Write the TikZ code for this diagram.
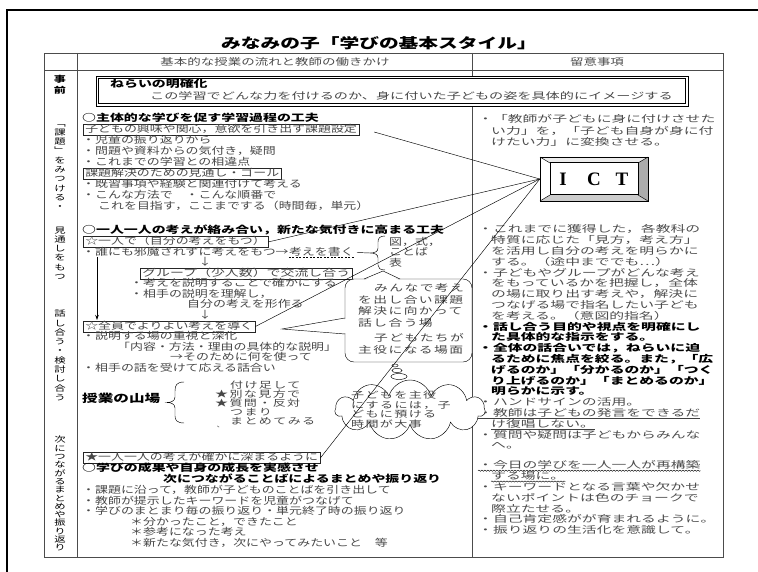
\documentclass[tikz,border=0pt]{standalone}
\usepackage{fontspec}
\usetikzlibrary{shapes.symbols,arrows.meta,decorations.pathmorphing}
\newfontfamily\jp{Noto Sans CJK JP}[FakeStretch=1.42]
\newfontfamily\jpr{Noto Sans CJK JP}[FakeStretch=1.32]
\newfontfamily\jprw{Noto Sans CJK JP}[FakeStretch=1.56]
\newfontfamily\jpa{Noto Sans CJK JP}[FakeStretch=1.52]
\newfontfamily\jpw{Noto Sans CJK JP}[FakeStretch=1.45,LetterSpace=15]
\newfontfamily\ictfont{Liberation Serif}
\begin{document}
\begin{tikzpicture}[x=1pt,y=-1pt]
\tikzset{
 base/.style={inner sep=0pt, text height=7.4pt, text depth=1.6pt},
 tx/.style={base, anchor=west, font=\jpr\fontsize{9.8}{10}\selectfont, text=black!72},
 txw/.style={base, anchor=west, font=\jp\fontsize{9.8}{10}\selectfont, text=black!72},
 bd/.style={base, anchor=west, font=\jp\bfseries\fontsize{9.8}{10}\selectfont},
 bx/.style={tx, draw=black!85, line width=0.5pt, inner xsep=2pt, inner ysep=1.2pt},
 bxw/.style={txw, draw=black!85, line width=0.5pt, inner xsep=2pt, inner ysep=1.2pt},
 rt/.style={base, anchor=west, font=\jprw\fontsize{9.5}{10}\selectfont, text=black!70},
 rb/.style={base, anchor=west, font=\jprw\bfseries\fontsize{9.5}{10}\selectfont},
 tw/.style={base, anchor=west, font=\jpw\fontsize{9}{10}\selectfont, text=black!72},
 cw/.style={base, anchor=west, font=\jpw\fontsize{9.5}{10}\selectfont, text=black!72},
 vt/.style={inner sep=0pt, align=center, font=\jp\fontsize{8}{9.3}\selectfont},
 hd/.style={inner sep=0pt, font=\jp\fontsize{9.5}{10}\selectfont, text=black!70},
 tbl/.style={line width=0.6pt, black!70},
 thinl/.style={line width=0.45pt},
 wavy/.style={decorate, decoration={snake, amplitude=0.6pt, segment length=3pt}, line width=0.4pt},
}
\useasboundingbox (0,0) rectangle (758,572);
% page frame
\draw[line width=2.2pt] (7,572) -- (7,10) -- (758,10);
% title
\node[inner sep=0pt, font=\jp\bfseries\fontsize{13.9}{14}\selectfont] (title) at (379,43) {みなみの子「学びの基本スタイル」};
% table
\draw[tbl] (44,53) rectangle (723,557);
\draw[tbl] (44,70) -- (723,70);
\draw[tbl] (77,53) -- (77,557);
\draw[tbl] (472,53) -- (472,557);
\node[hd] (h2) at (275,62) {基本的な授業の流れと教師の働きかけ};
\node[hd] (h3) at (597,62) {留意事項};
% column 1
\node[vt, font=\jp\bfseries\fontsize{8.5}{11}\selectfont] (v1) at (60,85) {事\\前};
\node[vt, anchor=north] (v2) at (60,124) {﹁\\課\\題\\﹂\\を\\み\\つ\\け\\る\\・\\[14pt]見\\通\\し\\を\\も\\つ};
\node[vt, anchor=north] (v3) at (60,310) {話\\し\\合\\う\\・\\検\\討\\し\\合\\う};
\node[vt, anchor=north, font=\jp\fontsize{8}{8.3}\selectfont] (v4) at (60,436) {次\\に\\つ\\な\\が\\る\\ま\\と\\め\\や\\振\\り\\返\\り};
% aim box
\draw[fill=white, line width=0.6pt] (96,76) rectangle (688,106);
\draw[line width=1pt] (98.5,78.5) rectangle (685.5,103.5);
\node[bd] (aim1) at (110,85) {ねらいの明確化};
\node[base, anchor=west, font=\jpa\fontsize{9.3}{10}\selectfont, text=black!72] (aim2) at (150,97) {この学習でどんな力を付けるのか、身に付いた子どもの姿を具体的にイメージする};
% left column block 1
\node[bd] (l1) at (82,119) {○主体的な学びを促す学習過程の工夫};
\node[bx] (l2) at (83,130) {子どもの興味や関心，意欲を引き出す課題設定};
\node[tx] (l3) at (82,141) {・児童の振り返りから};
\node[tx] (l4) at (82,152) {・問題や資料からの気付き，疑問};
\node[tx] (l5) at (82,163) {・これまでの学習との相違点};
\node[bx] (l6) at (83,174) {課題解決のための見通し・ゴール};
\node[tx] (l7) at (82,185) {・既習事項や経験と関連付けて考える};
\node[tx] (l8) at (82,196) {・こんな方法で　・こんな順番で};
\node[tx] (l9) at (98,207) {これを目指す，ここまでする（時間毎，単元）};
% block 2
\node[bd] (m1) at (82,231) {○一人一人の考えが絡み合い，新たな気付きに高まる工夫};
\node[bx] (m2) at (83,242) {☆一人で（自分の考えをもつ）};
\node[tx] (m3a) at (82,252.5) {・誰にも邪魔されずに考えをもつ→};
\node[tx] (m3b) at (m3a.east) {考えを書く};
\draw[line width=0.4pt, dash pattern=on 2pt off 1.5pt] (m3b.south west) -- (m3b.south east);
\coordinate (br1) at (370,253);
\draw[thinl] (m3b.east) ++(3,0) -- (br1);
\draw[thinl] (385,236) .. controls (380,236) and (378,238) .. (378,242) -- (378,248) .. controls (378,251.5) and (375,253) .. (br1) .. controls (375,253) and (378,254.5) .. (378,258) -- (378,265) .. controls (378,268) and (380,270) .. (385,270);
\node[tx] (f1) at (389,242.5) {図，式，};
\node[tx] (f2) at (389,253) {ことば};
\node[tx] (f3) at (389,263.5) {表};
\node[tx, anchor=center] (a1) at (205,263) {↓};
\node[bxw] (m4) at (140,273.5) {グループ（少人数）で交流し合う};
\node[tx] (m5) at (130,284) {・考えを説明することで確かにする};
\node[tx] (m6) at (130,294.5) {・相手の説明を理解し，};
\node[tx] (m7) at (187,305) {自分の考えを形作る};
\node[tx, anchor=center] (a2) at (205,315.5) {↓};
\coordinate (arTop) at (97,257);
\coordinate (arBot) at (97,320);
\draw[line width=0.8pt, -{Stealth[length=5pt,width=3.5pt]}] (arTop) -- (arBot);
\node[bx] (m8) at (83,326.5) {☆全員でよりよい考えを導く};
\node[tx] (m9) at (82,337) {・説明する場の重視と深化};
\node[tx] (m10) at (117,347.5) {「内容・方法・理由の具体的な説明」};
\node[tx] (m11) at (170,358) {→そのために何を使って};
\node[tx] (m12) at (82,368.5) {・相手の話を受けて応える話合い};
% climax
\node[base, anchor=west, font=\jp\bfseries\fontsize{11}{11}\selectfont] (yama) at (82,400) {授業の山場};
\draw[thinl] (184,382) .. controls (177,382) and (175,385) .. (175,391) -- (175,397) .. controls (175,401) and (171,402.5) .. (167,402.5) .. controls (171,402.5) and (175,404) .. (175,408) -- (175,416) .. controls (175,420) and (177,423) .. (184,423);
\node[tw] (y1) at (230,386) {付け足して};
\node[tw] (y2) at (215,395) {★別な見方で};
\node[tw] (y3) at (215,404) {★質問・反対};
\node[tw] (y4) at (230,413) {つまり};
\node[tw] (y5) at (230,422) {まとめてみる};
\node[inner sep=0pt, font=\jp\fontsize{6}{6}\selectfont, text=black!70] (y6) at (221,427) {、};
% block 3
\node[bx] (b1) at (83,458) {★一人一人の考えが確かに深まるように};
\node[bd] (b2) at (82,469) {○学びの成果や自身の成長を実感させ};
\node[bd] (b3) at (163,480) {次につながることばによるまとめや振り返り};
\node[tx] (b4) at (82,491) {・課題に沿って，教師が子どものことばを引き出して};
\node[tx] (b5) at (82,501.5) {・教師が提示したキーワードを児童がつなげて};
\node[tx] (b6) at (82,512) {・学びのまとまり毎の振り返り・単元終了時の振り返り};
\node[tx] (b7) at (130,522.5) {＊分かったこと，できたこと};
\node[tx] (b8) at (130,533) {＊参考になった考え};
\node[tx] (b9) at (130,543.5) {＊新たな気付き，次にやってみたいこと　等};
% right column
\node[rt] (r1) at (478,120) {・「教師が子どもに身に付けさせた};
\node[rt] (r2) at (491,131.5) {い力」を，「子ども自身が身に付};
\node[rt] (r3) at (491,143) {けたい力」に変換させる。};
\node[rt] (r4) at (478,230) {・これまでに獲得した，各教科の};
\node[rt] (r5) at (491,240.8) {特質に応じた「見方，考え方」};
\node[rt] (r6) at (491,251.6) {を活用し自分の考えを明らかに};
\node[rt] (r7) at (491,262.4) {する。（途中まででも…）};
\node[rt] (r8) at (478,273.2) {・子どもやグループがどんな考え};
\node[rt] (r9) at (491,284) {をもっているかを把握し，全体};
\node[rt] (r10) at (491,294.8) {の場に取り出す考えや，解決に};
\node[rt] (r11) at (491,305.6) {つなげる場で指名したい子ども};
\node[rt] (r12) at (491,316.4) {を考える。（意図的指名）};
\node[rb] (r13) at (478,327.2) {・話し合う目的や視点を明確にし};
\node[rb] (r14) at (491,338) {た具体的な指示をする。};
\node[rb] (r15) at (478,348.8) {・全体の話合いでは，ねらいに迫};
\node[rb] (r16) at (491,359.6) {るために焦点を絞る。また，「広};
\node[rb] (r17) at (491,370.4) {げるのか」「分かるのか」「つく};
\node[rb] (r18) at (491,381.2) {り上げるのか」「まとめるのか」};
\node[rb] (r19) at (491,392) {明らかに示す。};
\node[rt] (r20) at (478,402.8) {・ハンドサインの活用。};
\node[rt] (r21) at (478,413.6) {・教師は子どもの発言をできるだ};
\node[rt] (r22) at (491,424.4) {け復唱しない。};
\draw[line width=0.9pt, black!75] (r21.south west) -- (r21.south east);
\draw[line width=0.9pt, black!75] (r22.south west) -- (r22.south east);
\node[rt] (r23) at (478,435.2) {・質問や疑問は子どもからみんな};
\node[rt] (r24) at (491,446) {へ。};
\node[rt] (r25) at (478,466) {・今日の学びを一人一人が再構築};
\node[rt] (r26) at (491,476.8) {する場に。};
\draw[wavy] (r25.south west) -- (r25.south east);
\draw[wavy] (r26.south west) -- (r26.south east);
\node[rt] (r27) at (478,487.6) {・キーワードとなる言葉や欠かせ};
\node[rt] (r28) at (491,498.4) {ないポイントは色のチョークで};
\node[rt] (r29) at (491,509.2) {際立たせる。};
\node[rt] (r30) at (478,520) {・自己肯定感がが育まれるように。};
\node[rt] (r31) at (478,530.8) {・振り返りの生活化を意識して。};
% callout
\node[draw, thinl, fill=white, rounded corners=9pt, minimum width=127pt, minimum height=83pt, inner sep=0pt] (callout) at (408.5,320.5) {};
\fill[white] (365,280.2) -- (383,271.5) -- (399,280.2) -- cycle;
\draw[thinl] (364,279) -- (383,271) -- (400,279);
\fill[white] (346.2,319) -- (283,329) -- (346.2,333) -- cycle;
\draw[thinl] (345,318) -- (282,329) -- (345,334);
\node[cw] (c1) at (374,289) {みんなで考え};
\node[cw] (c2) at (358,300.5) {を出し合い課題};
\node[cw] (c3) at (358,312) {解決に向かって};
\node[cw] (c4) at (358,323.5) {話し合う場};
\node[cw] (c5) at (374,339) {子どもたちが};
\node[cw] (c6) at (358,350.5) {主役になる場面};
% thought cloud
\draw[thinl, fill=white] (395,365.5) ellipse (3pt and 1.5pt);
\draw[thinl, fill=white] (397,370.5) ellipse (5pt and 2.2pt);
\draw[thinl, fill=white] (399,376.5) ellipse (8pt and 3pt);
\node[cloud, cloud puffs=11, aspect=2.6, draw, thinl, fill=white, minimum width=150pt, minimum height=60pt, inner sep=0pt] (cloud) at (410,410) {};
\node[tw] (k1) at (351,396) {子どもを主役};
\node[tw] (k2) at (351,405.5) {にするには，子};
\node[tw] (k3) at (351,415) {どもに預ける};
\node[tw] (k4) at (351,424.5) {時間が大事};
% ICT connectors
\node[minimum width=108pt, minimum height=44pt, inner sep=0pt] (ict) at (594,179) {};
\coordinate (ictL) at (ict.west);
\draw[thinl] (l2.east) ++(15,2) -- (ictL);
\draw[thinl] (m2.east) -- (ictL);
\draw[thinl] (m8.east) -- (ictL);
\draw[thinl] (b1.east) -- (ictL);
% ICT button
\fill[gray!15] (540,157) -- (648,157) -- (638,163) -- (550,163) -- cycle;
\fill[white] (540,157) -- (550,163) -- (550,195) -- (540,201) -- cycle;
\fill[gray!65] (648,157) -- (648,201) -- (638,195) -- (638,163) -- cycle;
\fill[gray!40] (540,201) -- (648,201) -- (638,195) -- (550,195) -- cycle;
\fill[white] (550,163) rectangle (638,195);
\draw[thinl] (540,157) rectangle (648,201);
\draw[line width=1pt] (550,163) rectangle (638,195);
\draw[thinl] (540,157) -- (550,163) (648,157) -- (638,163) (648,201) -- (638,195) (540,201) -- (550,195);
\node[inner sep=0pt, font=\ictfont\bfseries\fontsize{19}{19}\selectfont] (ictI) at (563,179.5) {I};
\node[inner sep=0pt, font=\ictfont\bfseries\fontsize{19}{19}\selectfont] (ictC) at (594,179.5) {C};
\node[inner sep=0pt, font=\ictfont\bfseries\fontsize{19}{19}\selectfont] (ictT) at (622,179.5) {T};
\end{tikzpicture}
\end{document}
